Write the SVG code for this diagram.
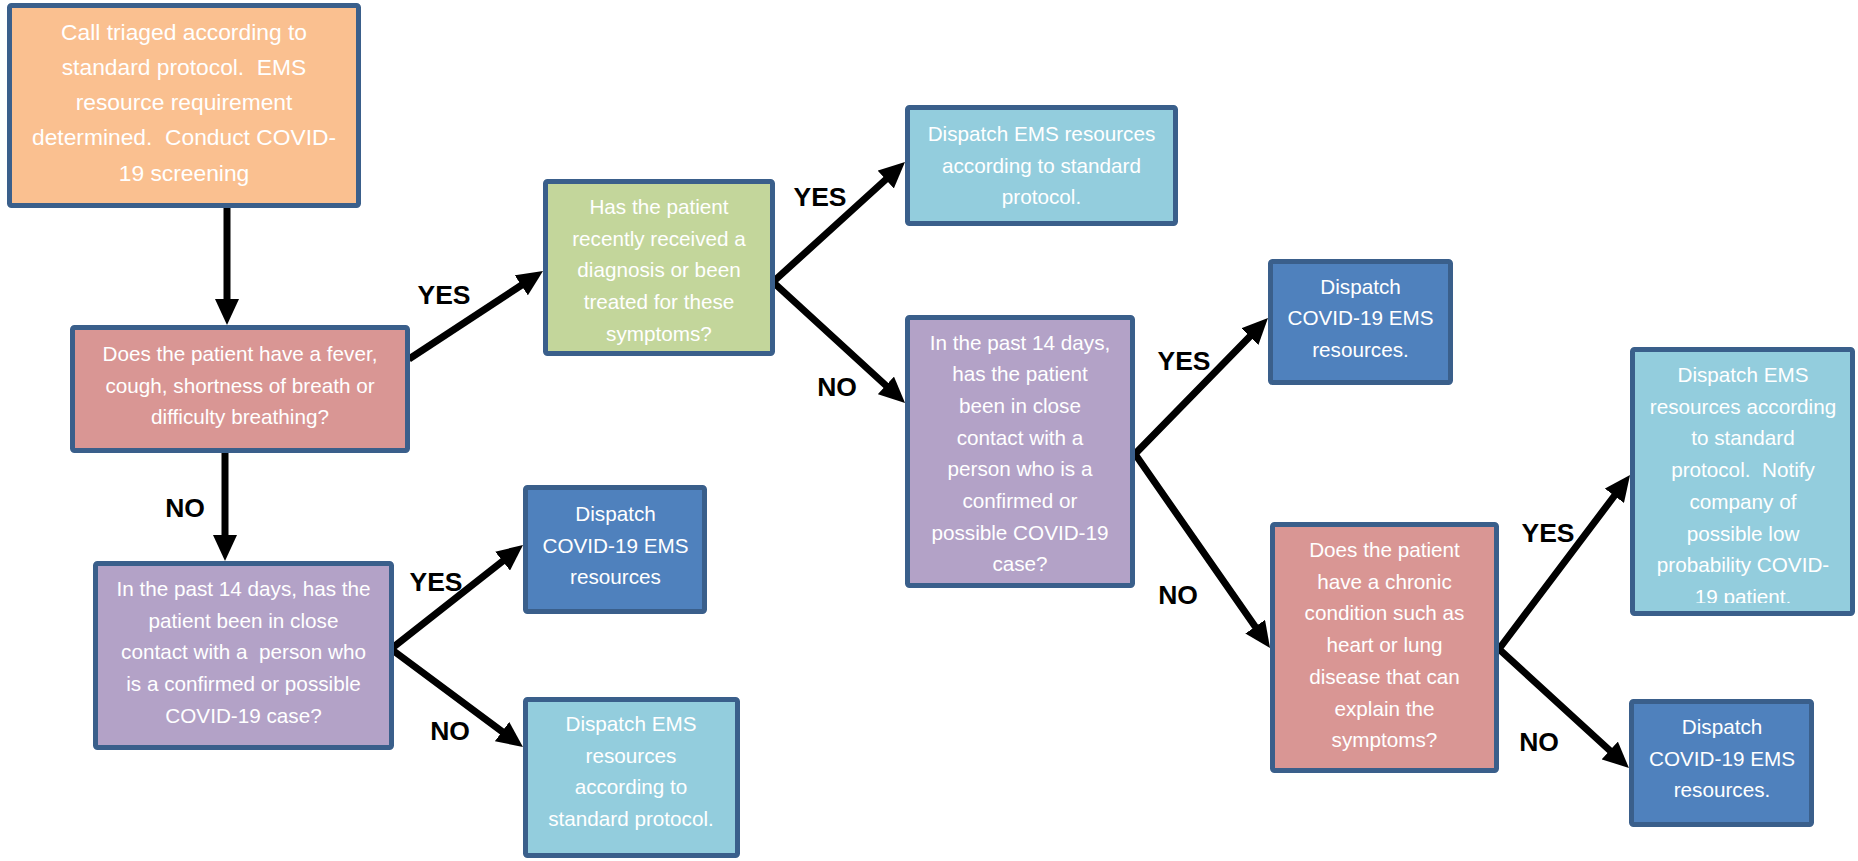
<svg xmlns="http://www.w3.org/2000/svg" width="1858" height="861" viewBox="0 0 1858 861">
<defs>
<style>
.box{stroke:#3a5f8b;stroke-width:5}
.t{font-family:"Liberation Sans",Arial,sans-serif;font-size:20.7px;fill:#ffffff;text-anchor:middle;white-space:pre}
.t1{font-size:22.8px}
.lbl{font-family:"Liberation Sans",Arial,sans-serif;font-size:26.5px;font-weight:bold;fill:#000;text-anchor:middle}
.c{fill:none;stroke:#000;stroke-width:7;stroke-linejoin:miter;stroke-miterlimit:10;marker-end:url(#ah)}
.c2{marker-start:url(#ah)}
</style>
<marker id="ah" markerUnits="userSpaceOnUse" viewBox="0 0 26 24" markerWidth="26" markerHeight="24" refX="6" refY="12" orient="auto-start-reverse">
<path d="M0,0 L26,12 L0,24 z" fill="#000"/>
</marker>
<clipPath id="clip11"><rect x="1630" y="347" width="225" height="256"/></clipPath>
</defs>
<rect width="1858" height="861" fill="#fff"/>

<g id="connectors">
<path id="e1" class="c" d="M227,208 L227,305"/>
<path id="e2" class="c" d="M409,359 L526.3,282"/>
<path id="e3" class="c" d="M225,453 L225,541"/>
<path id="e4-5" class="c c2" d="M507.3,557.4 L391,649 L506.9,735.1"/>
<path id="e6-7" class="c c2" d="M890.2,175.5 L773,282 L890.3,389.5"/>
<path id="e8-9" class="c c2" d="M1254,332.3 L1135,454 L1258.6,631.6"/>
<path id="e10-11" class="c c2" d="M1618,491 L1499,649 L1614.2,754.5"/>
</g>

<g id="labels">
<text class="lbl" x="444" y="304">YES</text>
<text class="lbl" x="185" y="517">NO</text>
<text class="lbl" x="436" y="591">YES</text>
<text class="lbl" x="450" y="740">NO</text>
<text class="lbl" x="820" y="206">YES</text>
<text class="lbl" x="837" y="396">NO</text>
<text class="lbl" x="1184" y="370">YES</text>
<text class="lbl" x="1178" y="604">NO</text>
<text class="lbl" x="1548" y="542">YES</text>
<text class="lbl" x="1539" y="751">NO</text>
</g>

<g id="n1">
<rect class="box" x="9.5" y="5.5" width="349" height="200" rx="2" fill="#fac090"/>
<text class="t t1" x="184"><tspan x="184" y="40">Call triaged according to</tspan><tspan x="184" y="75">standard protocol.  EMS</tspan><tspan x="184" y="110">resource requirement</tspan><tspan x="184" y="145">determined.  Conduct COVID-</tspan><tspan x="184" y="181">19 screening</tspan></text>
</g>

<g id="n2">
<rect class="box" x="72.5" y="327.5" width="335" height="123" rx="2" fill="#d99694"/>
<text class="t"><tspan x="240" y="361">Does the patient have a fever,</tspan><tspan x="240" y="392.7">cough, shortness of breath or</tspan><tspan x="240" y="424.4">difficulty breathing?</tspan></text>
</g>

<g id="n3">
<rect class="box" x="95.5" y="563.5" width="296" height="184" rx="2" fill="#b3a2c7"/>
<text class="t"><tspan x="243.5" y="596">In the past 14 days, has the</tspan><tspan x="243.5" y="627.7">patient been in close</tspan><tspan x="243.5" y="659.4">contact with a  person who</tspan><tspan x="243.5" y="691.1">is a confirmed or possible</tspan><tspan x="243.5" y="722.8">COVID-19 case?</tspan></text>
</g>

<g id="n4">
<rect class="box" x="545.5" y="181.5" width="227" height="172" rx="2" fill="#c3d69b"/>
<text class="t"><tspan x="659" y="214">Has the patient</tspan><tspan x="659" y="245.7">recently received a</tspan><tspan x="659" y="277.4">diagnosis or been</tspan><tspan x="659" y="309.1">treated for these</tspan><tspan x="659" y="340.8">symptoms?</tspan></text>
</g>

<g id="n5">
<rect class="box" x="907.5" y="107.5" width="268" height="116" rx="2" fill="#93cddd"/>
<text class="t"><tspan x="1041.5" y="141">Dispatch EMS resources</tspan><tspan x="1041.5" y="172.7">according to standard</tspan><tspan x="1041.5" y="204.4">protocol.</tspan></text>
</g>

<g id="n6">
<rect class="box" x="907.5" y="317.5" width="225" height="268" rx="2" fill="#b3a2c7"/>
<text class="t"><tspan x="1020" y="349.5">In the past 14 days,</tspan><tspan x="1020" y="381.2">has the patient</tspan><tspan x="1020" y="412.9">been in close</tspan><tspan x="1020" y="444.6">contact with a</tspan><tspan x="1020" y="476.3">person who is a</tspan><tspan x="1020" y="508">confirmed or</tspan><tspan x="1020" y="539.7">possible COVID-19</tspan><tspan x="1020" y="571.4">case?</tspan></text>
</g>

<g id="n7">
<rect class="box" x="525.5" y="487.5" width="179" height="124" rx="2" fill="#4f81bd"/>
<text class="t"><tspan x="615.5" y="521">Dispatch</tspan><tspan x="615.5" y="552.7">COVID-19 EMS</tspan><tspan x="615.5" y="584.4">resources</tspan></text>
</g>

<g id="n8">
<rect class="box" x="525.5" y="699.5" width="212" height="156" rx="2" fill="#93cddd"/>
<text class="t"><tspan x="631" y="731">Dispatch EMS</tspan><tspan x="631" y="762.7">resources</tspan><tspan x="631" y="794.4">according to</tspan><tspan x="631" y="826.1">standard protocol.</tspan></text>
</g>

<g id="n9">
<rect class="box" x="1270.5" y="261.5" width="180" height="121" rx="2" fill="#4f81bd"/>
<text class="t"><tspan x="1360.5" y="293.5">Dispatch</tspan><tspan x="1360.5" y="325.2">COVID-19 EMS</tspan><tspan x="1360.5" y="356.9">resources.</tspan></text>
</g>

<g id="n10">
<rect class="box" x="1272.5" y="524.5" width="224" height="246" rx="2" fill="#d99694"/>
<text class="t"><tspan x="1384.5" y="557">Does the patient</tspan><tspan x="1384.5" y="588.7">have a chronic</tspan><tspan x="1384.5" y="620.4">condition such as</tspan><tspan x="1384.5" y="652.1">heart or lung</tspan><tspan x="1384.5" y="683.8">disease that can</tspan><tspan x="1384.5" y="715.5">explain the</tspan><tspan x="1384.5" y="747.2">symptoms?</tspan></text>
</g>

<g id="n11">
<rect class="box" x="1632.5" y="349.5" width="220" height="264" rx="2" fill="#93cddd"/>
<text class="t" clip-path="url(#clip11)"><tspan x="1743" y="382">Dispatch EMS</tspan><tspan x="1743" y="413.7">resources according</tspan><tspan x="1743" y="445.4">to standard</tspan><tspan x="1743" y="477.1">protocol.  Notify</tspan><tspan x="1743" y="508.8">company of</tspan><tspan x="1743" y="540.5">possible low</tspan><tspan x="1743" y="572.2">probability COVID-</tspan><tspan x="1743" y="603.9">19 patient.</tspan></text>
</g>

<g id="n12">
<rect class="box" x="1631.5" y="701.5" width="180" height="123" rx="2" fill="#4f81bd"/>
<text class="t"><tspan x="1722" y="734">Dispatch</tspan><tspan x="1722" y="765.7">COVID-19 EMS</tspan><tspan x="1722" y="797.4">resources.</tspan></text>
</g>
</svg>
